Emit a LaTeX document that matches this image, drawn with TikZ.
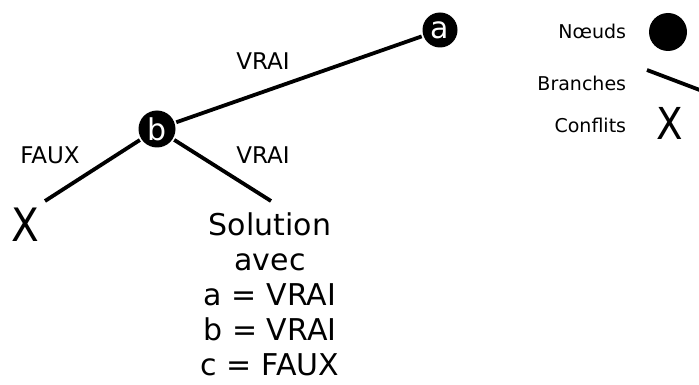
\documentclass[tikz,border=0pt]{standalone}
\usepackage{fontspec}
\usepackage{graphicx}
\setmainfont{DejaVu Sans}
\usetikzlibrary{positioning}

\begin{document}
\begin{tikzpicture}[x=1pt,y=-1pt,line width=3.8pt,
  var node/.style={circle,fill=black,draw=none,text=white,inner sep=0pt,font=\fontsize{30}{30}\selectfont},
  conf node/.style={inner sep=0pt,font=\fontsize{46}{46}\selectfont},
  sol node/.style={inner sep=0pt,align=center,font=\fontsize{30}{35}\selectfont},
  lbl node/.style={inner sep=0pt,font=\fontsize{23}{23}\selectfont},
  leg node/.style={inner sep=0pt,anchor=base east,font=\fontsize{19}{19}\selectfont}]

  \useasboundingbox (0,0) rectangle (699,385);

  % arbre
  \node[var node,minimum size=35pt] (a) at (440,30) {a};
  \node[var node,minimum size=37pt] (b) at (157,129) {b};
  \node[conf node] (x) at (25,225) {\scalebox{0.88}[1]{X}};
  \node[sol node,anchor=north] (sol) at (270,211)
    {Solution\\avec\\a = VRAI\\b = VRAI\\c = FAUX};
  \coordinate (xend) at (45,201);
  \coordinate (solend) at (271,201);

  \path[draw]
    (b) -- (a)
    (b) -- (xend)
    (b) -- (solend)
    ;

  \node[lbl node] (vrai1) at (263,61) {VRAI};
  \node[lbl node] (faux) at (50,155) {FAUX};
  \node[lbl node] (vrai2) at (263,155) {VRAI};

  % legende
  \node[leg node] (lnoeud) at (628,39) {Nœuds};
  \node[leg node] (lbranche) at (628,91) {Branches};
  \node[leg node] (lconflit) at (628,133) {Conflits};
  \node[circle,fill=black,inner sep=0pt,minimum size=38pt] (noeud) at (668,32) {};
  \coordinate (br1) at (647,70);
  \coordinate (br2) at (705,92);
  \draw (br1) -- (br2);
  \node[inner sep=0pt,font=\fontsize{44}{44}\selectfont] (conflit) at (670,123) {\scalebox{0.88}[1]{X}};

\end{tikzpicture}
\end{document}
